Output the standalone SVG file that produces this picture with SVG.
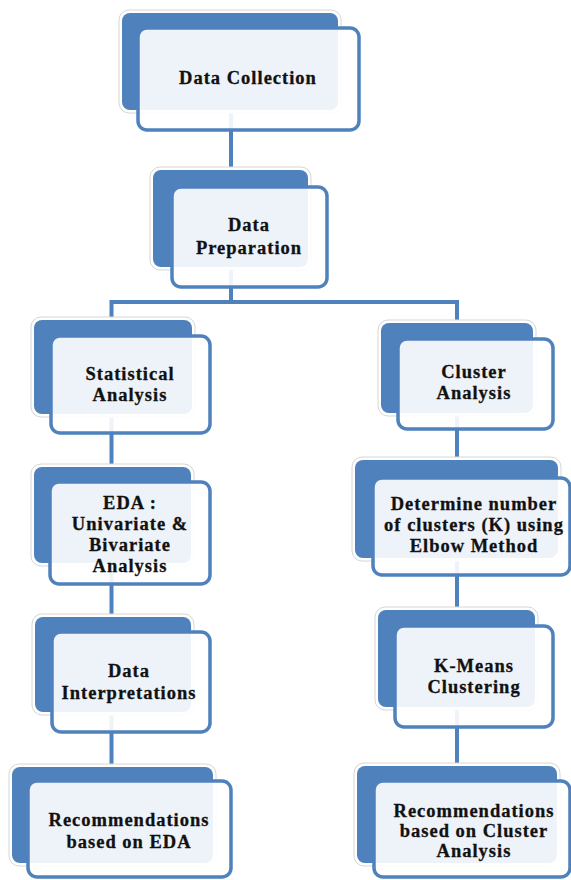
<svg xmlns="http://www.w3.org/2000/svg" width="571" height="880" viewBox="0 0 571 880">
<style>
.halo{fill:#fff;stroke:#d6d6d6;stroke-width:1}
.back{fill:#4F81BD}
.front{fill:#fff;fill-opacity:0.9;stroke:#4F81BD;stroke-width:3.5}
.conn{fill:none;stroke:#4F81BD;stroke-width:4}
text{font-family:"Liberation Serif","Times New Roman",serif;font-weight:bold;font-size:18.5px;letter-spacing:1px;fill:#111;stroke:#111;stroke-width:0.3px;text-anchor:middle}
</style>
<rect width="571" height="880" fill="#fff"/>
<g id="connectors">
<path class="conn" d="M231,60 V302"/>
<path class="conn" d="M111.5,302 H457 M111.5,300 V800 M457,300 V800"/>
</g>
<g id="n1">
<rect class="halo" x="119" y="10" width="222" height="103" rx="10"/>
<rect class="back" x="122" y="13" width="216" height="97" rx="8"/>
<rect class="front" x="138" y="28" width="221" height="102" rx="9"/>
<text x="248" y="84">Data Collection</text>
</g>
<g id="n2">
<rect class="halo" x="150" y="167" width="161" height="103" rx="10"/>
<rect class="back" x="153" y="170" width="155" height="97" rx="8"/>
<rect class="front" x="172" y="187" width="155" height="100" rx="9"/>
<text x="249" y="231">Data</text>
<text x="249" y="254">Preparation</text>
</g>
<g id="n3">
<rect class="halo" x="31" y="317" width="164" height="100" rx="10"/>
<rect class="back" x="34" y="320" width="158" height="94" rx="8"/>
<rect class="front" x="51" y="336" width="159" height="97" rx="9"/>
<text x="130" y="380">Statistical</text>
<text x="130" y="401">Analysis</text>
</g>
<g id="n4">
<rect class="halo" x="378" y="320" width="158" height="96" rx="10"/>
<rect class="back" x="381" y="323" width="152" height="90" rx="8"/>
<rect class="front" x="398" y="339" width="155" height="90" rx="9"/>
<text x="474" y="378">Cluster</text>
<text x="474" y="399">Analysis</text>
</g>
<g id="n5">
<rect class="halo" x="31" y="464" width="163" height="102" rx="10"/>
<rect class="back" x="34" y="467" width="157" height="96" rx="8"/>
<rect class="front" x="50" y="482" width="160" height="102" rx="9"/>
<text x="130" y="509">EDA :</text>
<text x="130" y="530">Univariate &amp;</text>
<text x="130" y="551">Bivariate</text>
<text x="130" y="572">Analysis</text>
</g>
<g id="n6">
<rect class="halo" x="352" y="457" width="209" height="104" rx="10"/>
<rect class="back" x="355" y="460" width="203" height="98" rx="8"/>
<rect class="front" x="373" y="478" width="197" height="97" rx="9"/>
<text x="474" y="510">Determine number</text>
<text x="474" y="531">of clusters (K) using</text>
<text x="474" y="552">Elbow Method</text>
</g>
<g id="n7">
<rect class="halo" x="32" y="614" width="162" height="101" rx="10"/>
<rect class="back" x="35" y="617" width="156" height="95" rx="8"/>
<rect class="front" x="52" y="632" width="158" height="100" rx="9"/>
<text x="129" y="677">Data</text>
<text x="129" y="699">Interpretations</text>
</g>
<g id="n8">
<rect class="halo" x="375" y="607" width="163" height="103" rx="10"/>
<rect class="back" x="378" y="610" width="157" height="97" rx="8"/>
<rect class="front" x="395" y="626" width="158" height="101" rx="9"/>
<text x="474" y="672">K-Means</text>
<text x="474" y="693">Clustering</text>
</g>
<g id="n9">
<rect class="halo" x="9" y="764" width="207" height="102" rx="10"/>
<rect class="back" x="12" y="767" width="201" height="96" rx="8"/>
<rect class="front" x="28" y="781" width="203" height="96" rx="9"/>
<text x="129" y="826">Recommendations</text>
<text x="129" y="848">based on EDA</text>
</g>
<g id="n10">
<rect class="halo" x="354" y="763" width="206" height="103" rx="10"/>
<rect class="back" x="357" y="766" width="200" height="97" rx="8"/>
<rect class="front" x="374" y="781" width="196" height="96" rx="9"/>
<text x="474" y="817">Recommendations</text>
<text x="474" y="837">based on Cluster</text>
<text x="474" y="857">Analysis</text>
</g>
</svg>
